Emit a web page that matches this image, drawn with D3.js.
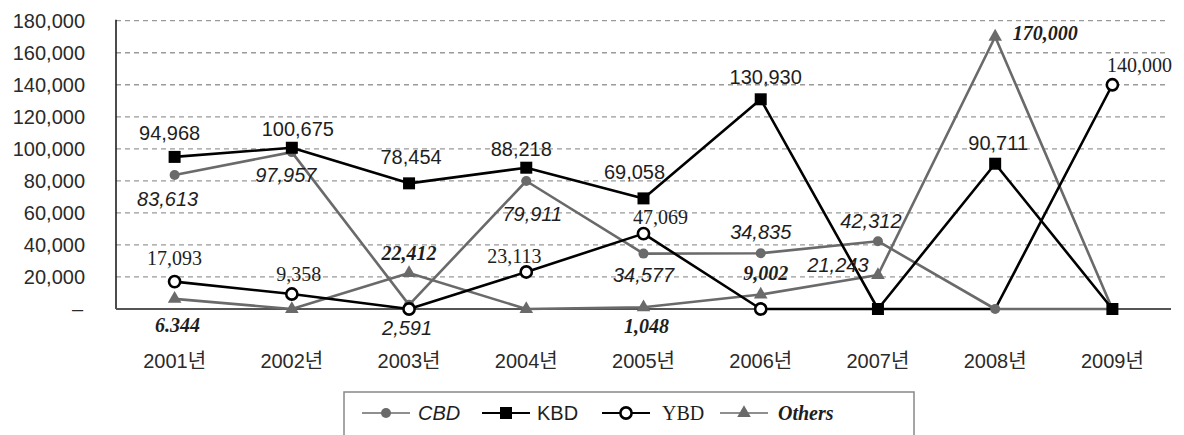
<!DOCTYPE html>
<html>
<head>
<meta charset="utf-8">
<script src="https://cdn.jsdelivr.net/npm/d3@7"></script>
<style>
  html, body { margin: 0; padding: 0; background: #fff; }
  svg { display: block; }
  .sans { font-family: "Liberation Sans", Arial, "Noto Sans CJK KR", sans-serif; }
  .serif { font-family: "Liberation Serif", "Times New Roman", serif; }
</style>
</head>
<body>
<svg id="chart" width="1184" height="435"></svg>
<script>
// Annual figures by business district
const years  = ["2001년", "2002년", "2003년", "2004년", "2005년", "2006년", "2007년", "2008년", "2009년"];
const cbd    = [83613, 97957, 2591, 79911, 34577, 34835, 42312, 0, 0];
const kbd    = [94968, 100675, 78454, 88218, 69058, 130930, 0, 90711, 0];
const ybd    = [17093, 9358, 0, 23113, 47069, 0, 0, 0, 140000];
const others = [6344, 0, 22412, 0, 1048, 9002, 21243, 170000, 0];
const yTicks = [0, 20000, 40000, 60000, 80000, 100000, 120000, 140000, 160000, 180000];

const svg = d3.select("#chart");
const plotL = 116, plotR = 1171, plotT = 20.7, plotB = 309;
const GRAY = "#6a6a6a";

const x = d3.scalePoint().domain(years).range([plotL, plotR]).padding(0.5);
const y = d3.scaleLinear().domain([0, 180000]).range([plotB, plotT]);
const fmt = d3.format(",");

// dashed gridlines
svg.append("g").selectAll("line").data(yTicks.filter(d => d > 0)).join("line")
  .attr("x1", plotL).attr("x2", plotR - 5)
  .attr("y1", d => y(d)).attr("y2", d => y(d))
  .attr("stroke", "#9a9a9a").attr("stroke-width", 1.3).attr("stroke-dasharray", "5,4");

// y axis labels
svg.append("g").selectAll("text").data(yTicks).join("text")
  .attr("class", "sans")
  .attr("x", d => d === 0 ? 83 : 85).attr("y", d => y(d))
  .attr("text-anchor", "end").attr("dominant-baseline", "central")
  .attr("font-size", 20).attr("fill", "#2a2a2a")
  .text(d => d === 0 ? "–" : fmt(d));

// axis lines
svg.append("line").attr("x1", plotL).attr("x2", plotL).attr("y1", plotT - 1).attr("y2", plotB)
  .attr("stroke", "#111").attr("stroke-width", 1.5);
svg.append("line").attr("x1", plotL).attr("x2", plotR).attr("y1", plotB).attr("y2", plotB)
  .attr("stroke", "#555").attr("stroke-width", 2);

// x axis labels
svg.append("g").selectAll("text").data(years).join("text")
  .attr("class", "sans")
  .attr("x", d => x(d)).attr("y", 368)
  .attr("text-anchor", "middle")
  .attr("font-size", 20).attr("fill", "#2a2a2a")
  .text(d => d);

// series definitions (styles and label placement)
const series = [
  { name: "CBD", values: cbd, color: GRAY, marker: "dot", hide: [],
    font: { cls: "sans", style: "italic", weight: "normal" },
    labels: [[0, -7, 24], [1, -6, 23], [2, -2, 23], [3, 6, 33], [4, 0, 21], [5, 0, -21], [6, -7, -20]] },
  { name: "Others", values: others, color: GRAY, marker: "tri", hide: ["2009년"],
    font: { cls: "serif", style: "italic", weight: "bold" },
    labels: [[0, 3, 26, "6.344"], [2, 0, -20], [4, 3, 19], [5, 5, -22],
             [6, -40, -10, null, { cls: "sans", style: "italic", weight: "normal" }], [7, 50, -4]] },
  { name: "KBD", values: kbd, color: "#000", marker: "square", hide: [],
    font: { cls: "sans", style: "normal", weight: "normal" },
    labels: [[0, -5, -24], [1, 6, -19], [2, 2, -26], [3, -5, -19], [4, -9, -26], [5, 5, -22], [7, 3, -21]] },
  { name: "YBD", values: ybd, color: "#000", marker: "circle", hide: ["2007년", "2008년"],
    font: { cls: "serif", style: "normal", weight: "normal" },
    labels: [[0, 0, -24], [1, 7, -20], [3, -12, -16], [4, 17, -17], [8, 27, -20]] }
];

const line = d3.line().x(d => x(d.year)).y(d => y(d.value));
const pts = s => years.map((yr, i) => ({ year: yr, value: s.values[i] }));

// lines
series.forEach(s => {
  svg.append("path").datum(pts(s)).attr("d", line)
    .attr("fill", "none").attr("stroke", s.color).attr("stroke-width", 2.6)
    .attr("stroke-linejoin", "round");
});

function drawMarker(g, type, cx, cy, color) {
  if (type === "dot") {
    g.append("circle").attr("cx", cx).attr("cy", cy).attr("r", 5).attr("fill", color);
  } else if (type === "square") {
    g.append("rect").attr("x", cx - 6).attr("y", cy - 6).attr("width", 12).attr("height", 12).attr("fill", color);
  } else if (type === "circle") {
    g.append("circle").attr("cx", cx).attr("cy", cy).attr("r", 5.6)
      .attr("fill", "#fff").attr("stroke", color).attr("stroke-width", 2.6);
  } else if (type === "tri") {
    g.append("path").attr("d", d3.symbol(d3.symbolTriangle, 80)())
      .attr("transform", `translate(${cx},${cy})`).attr("fill", color);
  }
}

// markers
series.forEach(s => {
  const g = svg.append("g");
  pts(s).forEach(p => {
    if (s.hide.includes(p.year)) return;
    drawMarker(g, s.marker, x(p.year), y(p.value), s.color);
  });
});

// value labels
series.forEach(s => {
  const g = svg.append("g");
  s.labels.forEach(([i, dx, dy, txt, f]) => {
    const font = f || s.font;
    g.append("text")
      .attr("class", font.cls)
      .attr("x", x(years[i]) + dx).attr("y", y(s.values[i]) + dy)
      .attr("text-anchor", "middle").attr("dominant-baseline", "central")
      .attr("font-size", 20).attr("font-style", font.style).attr("font-weight", font.weight)
      .attr("fill", "#1e1e1e")
      .text(txt || fmt(s.values[i]));
  });
});

// legend
const lg = svg.append("g");
lg.append("rect").attr("x", 344).attr("y", 392).attr("width", 570).attr("height", 80)
  .attr("fill", "#fff").attr("stroke", "#888").attr("stroke-width", 1.5);
const legendItems = [
  { s: series[0], x0: 362, tx: 418 },
  { s: series[2], x0: 482, tx: 537 },
  { s: series[3], x0: 602, tx: 662 },
  { s: series[1], x0: 720, tx: 778 }
];
const ly = 413;
legendItems.forEach(({ s, x0, tx }) => {
  lg.append("line").attr("x1", x0).attr("x2", x0 + 48).attr("y1", ly).attr("y2", ly)
    .attr("stroke", s.color).attr("stroke-width", s.color === "#000" ? 2 : 1.5);
  drawMarker(lg, s.marker, x0 + 24, ly, s.color);
  lg.append("text").attr("class", s.font.cls)
    .attr("x", tx).attr("y", ly).attr("dominant-baseline", "central")
    .attr("font-size", 20).attr("font-style", s.font.style).attr("font-weight", s.font.weight)
    .attr("fill", "#1e1e1e").text(s.name);
});
</script>
</body>
</html>
